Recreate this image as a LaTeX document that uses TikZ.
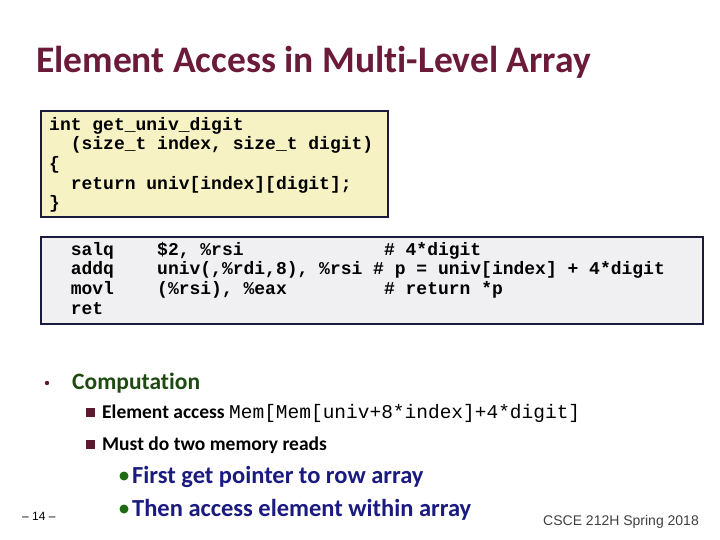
\documentclass[tikz,border=0pt]{standalone}
\usepackage{fontspec}
\setmainfont[Ligatures={NoCommon}]{Carlito}
\newfontfamily\codef{Liberation Mono}
\newfontfamily\arialf{Liberation Sans}
\definecolor{titlec}{HTML}{6B1A3A}
\definecolor{compc}{HTML}{1E4A12}
\definecolor{navyc}{HTML}{1A1A80}
\definecolor{yellowbg}{HTML}{F7F2C4}
\definecolor{greybg}{HTML}{F0F0F3}
\definecolor{boxline}{HTML}{1A1A3A}
\definecolor{sqc}{HTML}{5A1A30}
\definecolor{dotc}{HTML}{1E6A12}
\begin{document}
\begin{tikzpicture}[x=1pt,y=-1pt,
  codebox/.style={draw=boxline,line width=1.8pt},
  codetxt/.style={anchor=north west,inner sep=0pt,font=\codef\bfseries\fontsize{18}{19.6}\selectfont,align=left},
  lvltwo/.style={anchor=west,inner sep=0pt,font=\bfseries\fontsize{19.5}{22}\selectfont},
  lvlthree/.style={anchor=west,inner sep=0pt,font=\bfseries\fontsize{24.5}{28}\selectfont,text=navyc}]
\useasboundingbox (0,0) rectangle (720,540);
\node[anchor=west,inner sep=0pt,text=titlec,font=\bfseries\fontsize{37.5}{42}\selectfont] (title) at (36,62) {Element Access in Multi-Level Array};
\draw[codebox,fill=yellowbg] (41,111) rectangle (388,217);
\node[codetxt] (c1) at (49,117) {int get\_univ\_digit\\\ \ (size\_t index, size\_t digit)\\\{\\\ \ return univ[index][digit];\\\}};
\draw[codebox,fill=greybg] (41,237) rectangle (703,324);
\node[codetxt] (c2) at (49,242) {\ \ salq\ \ \ \ \$2, \%rsi\ \ \ \ \ \ \ \ \ \ \ \ \ \# 4*digit\\\ \ addq\ \ \ \ univ(,\%rdi,8), \%rsi \# p = univ[index] + 4*digit\\\ \ movl\ \ \ \ (\%rsi), \%eax\ \ \ \ \ \ \ \ \ \# return *p\\\ \ ret};
\fill[sqc] (47,383) circle (2.2);
\node[anchor=west,inner sep=0pt,text=compc,font=\bfseries\fontsize{23.5}{26}\selectfont] (comp) at (72,383) {Computation};
\fill[sqc] (86,408) rectangle (95,417);
\node[lvltwo] (l1) at (102,413) {Element access {\codef\mdseries\fontsize{19.5}{22}\selectfont Mem[Mem[univ+8*index]+4*digit]}};
\fill[sqc] (86,440) rectangle (95,449);
\node[lvltwo] (l2) at (102,445) {Must do two memory reads};
\fill[dotc] (124,476) circle (4.5);
\node[lvlthree] (l3) at (132,477) {First get pointer to row array};
\fill[dotc] (124,509) circle (4.5);
\node[lvlthree] (l4) at (132,510) {Then access element within array};
\node[anchor=west,inner sep=0pt,font=\arialf\fontsize{12}{14}\selectfont] (pg) at (22,516) {– 14 –};
\node[anchor=west,inner sep=0pt,text=black!75,font=\arialf\fontsize{14}{16}\selectfont] (foot) at (543,522) {CSCE 212H Spring 2018};
\end{tikzpicture}
\end{document}
